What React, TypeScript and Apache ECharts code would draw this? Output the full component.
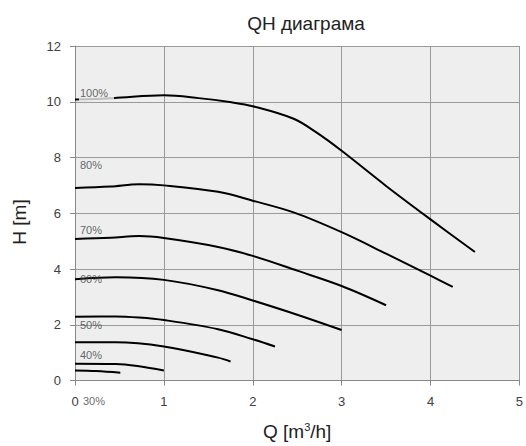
import React, { useEffect, useRef } from "react";
import * as echarts from "echarts";

// Curves (Q in m³/h, H in m)
const q100 = [0, 0.43, 1.0, 1.39, 1.76, 2.0, 2.46, 2.72, 3.0, 3.5, 4.0, 4.5];
const h100 = [10.08, 10.13, 10.23, 10.13, 9.98, 9.84, 9.39, 8.89, 8.24, 6.98, 5.78, 4.61];

const q80 = [0, 0.4, 0.72, 1.0, 1.61, 2.0, 2.46, 3.0, 3.5, 4.0, 4.25];
const h80 = [6.91, 6.96, 7.04, 7.0, 6.77, 6.45, 6.03, 5.32, 4.55, 3.76, 3.36];

const q70 = [0, 0.4, 0.72, 1.0, 1.61, 2.0, 2.5, 3.0, 3.5];
const h70 = [5.08, 5.12, 5.18, 5.11, 4.79, 4.47, 3.94, 3.39, 2.7];

const q60 = [0, 0.46, 1.0, 1.61, 2.0, 2.5, 3.0];
const h60 = [3.63, 3.7, 3.61, 3.24, 2.87, 2.36, 1.81];

const q50 = [0, 0.46, 0.72, 1.0, 1.61, 2.0, 2.25];
const h50 = [2.29, 2.3, 2.26, 2.17, 1.84, 1.48, 1.22];

const q40 = [0, 0.46, 1.0, 1.61, 1.75];
const h40 = [1.37, 1.37, 1.22, 0.82, 0.68];

const q35 = [0, 0.46, 0.72, 1.0];
const h35 = [0.6, 0.59, 0.51, 0.36];

const q30 = [0, 0.24, 0.51];
const h30 = [0.36, 0.34, 0.28];

// Curve labels (anchor in data coordinates)
const labelTexts = ["100%", "80%", "70%", "60%", "50%", "40%", "30%"];
const labelQ = [0.044, 0.056, 0.056, 0.056, 0.056, 0.056, 0.09];
const labelH = [10.32, 7.72, 5.4, 3.63, 1.99, 0.92, -0.74];

// Axis ticks
const xMin = 0, xMax = 5, xStep = 1;
const yMin = 0, yMax = 12, yStep = 2;

const FONT = "'Liberation Sans', Arial, sans-serif";
const LABEL_COLOR = "#404040";

const zip = (q: number[], h: number[]) => q.map((v, i) => [v, h[i]]);

export default function App() {
  const ref = useRef<HTMLDivElement>(null);
  useEffect(() => {
    const chart = echarts.init(ref.current!, undefined, { renderer: "svg" });
    const curves = [
      zip(q100, h100), zip(q80, h80), zip(q70, h70), zip(q60, h60),
      zip(q50, h50), zip(q40, h40), zip(q35, h35), zip(q30, h30),
    ];
    const lineSeries = curves.map((d, i) => ({
      type: "line",
      name: "c" + i,
      data: d,
      smooth: 0.35,
      showSymbol: false,
      symbol: "none",
      lineStyle: { color: "#000", width: 2 },
      z: 2,
      silent: true,
    }));
    const baseLabel = {
      show: true,
      position: "right",
      distance: 0,
      color: LABEL_COLOR,
      fontSize: 11,
      fontFamily: FONT,
    };
    const labelSeries = {
      type: "scatter",
      symbolSize: 0,
      clip: false,
      silent: true,
      z: 5,
      itemStyle: { color: LABEL_COLOR },
      data: labelTexts.map((t, i) => ({
        value: [labelQ[i], labelH[i], t],
        label: i === 0
          ? { ...baseLabel, backgroundColor: "#eeeeee", padding: [3, 6, 4, 1] }
          : { ...baseLabel },
      })),
      label: {
        ...baseLabel,
        formatter: (p: any) => p.value[2],
      },
    };
    chart.setOption({
      animation: false,
      title: {
        text: "QH диаграма",
        left: 301,
        textAlign: "center",
        top: 9,
        textStyle: { fontSize: 19, fontWeight: "normal", color: "#222", fontFamily: FONT },
      },
      graphic: [
        {
          type: "text",
          x: 19,
          y: 222,
          rotation: Math.PI / 2,
          silent: true,
          style: {
            text: "H [m]", fontSize: 19, fill: "#222", fontFamily: FONT,
            align: "center", verticalAlign: "middle",
          },
        },
      ],
      grid: {
        left: 75, right: 1, top: 46, bottom: 64,
        show: true, backgroundColor: "#eeeeee", borderWidth: 0,
      },
      xAxis: {
        type: "value",
        min: xMin, max: xMax, interval: xStep,
        name: "Q [m{s|3}/h]",
        nameLocation: "middle",
        nameGap: 41,
        nameTextStyle: {
          fontSize: 19, color: "#222", fontFamily: FONT,
          rich: { s: { fontSize: 11, verticalAlign: "top", color: "#222", fontFamily: FONT, padding: [0, 0, 9, 0] } },
        },
        axisLine: { show: true, lineStyle: { color: "#888", width: 1 } },
        axisTick: { show: true, length: 5, lineStyle: { color: "#888" } },
        axisLabel: { color: "#404040", fontSize: 13, margin: 14, fontFamily: FONT },
        splitLine: { show: true, lineStyle: { color: "#9a9a9a", width: 1 } },
      },
      yAxis: {
        type: "value",
        min: yMin, max: yMax, interval: yStep,
        axisLine: { show: true, lineStyle: { color: "#888", width: 1 } },
        axisTick: { show: true, length: 5, lineStyle: { color: "#888" } },
        axisLabel: { color: "#404040", fontSize: 13, margin: 14, fontFamily: FONT },
        splitLine: { show: true, lineStyle: { color: "#9a9a9a", width: 1 } },
      },
      series: [...lineSeries, labelSeries],
    });
    return () => chart.dispose();
  }, []);
  return (
    <div
      ref={ref}
      style={{ position: "fixed", left: 0, top: 0, width: 526, height: 446, background: "#fff" }}
    />
  );
}
